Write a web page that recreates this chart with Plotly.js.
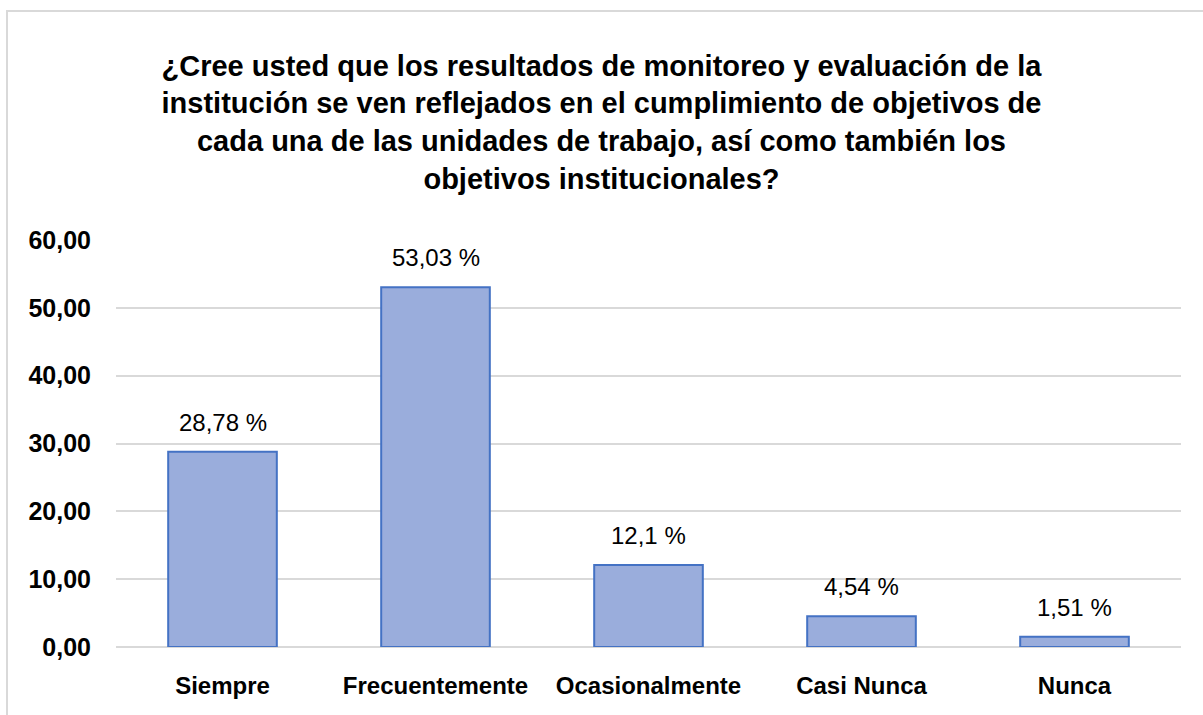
<!DOCTYPE html>
<html>
<head>
<meta charset="utf-8">
<script src="https://cdn.plot.ly/plotly-3.0.1.min.js"></script>
<style>
  html, body { margin: 0; padding: 0; background: #ffffff; }
  #frame { position: absolute; left: 6px; top: 10px; width: 1197px; height: 705px;
           border-top: 2px solid #d9d9d9; border-left: 2px solid #d9d9d9; box-sizing: border-box; }
  #chart { position: absolute; left: 0; top: 0; width: 1203px; height: 715px; }
</style>
</head>
<body>
<div id="frame"></div>
<div id="chart"></div>
<script>
const categories = ["Siempre", "Frecuentemente", "Ocasionalmente", "Casi Nunca", "Nunca"];
const values = [28.78, 53.03, 12.1, 4.54, 1.51];
const valueLabels = ["28,78 %", "53,03 %", "12,1 %", "4,54 %", "1,51 %"];
const titleText = "¿Cree usted que los resultados de monitoreo y evaluación de la<br>institución se ven reflejados en el cumplimiento de objetivos de<br>cada una de las unidades de trabajo, así como también los<br>objetivos institucionales?";

const fontFam = '"Liberation Sans", Arial, sans-serif';

const trace = {
  type: "bar",
  x: categories,
  y: values,
  marker: { color: "#9aaddc", line: { color: "#4472c4", width: 2 } },
  hoverinfo: "none"
};

const annotations = categories.map((c, i) => ({
  x: c, y: values[i], xref: "x", yref: "y",
  text: valueLabels[i], showarrow: false,
  yanchor: "bottom", yshift: 14,
  font: { family: fontFam, size: 24, color: "#000000" }
}));

const layout = {
  width: 1203, height: 715,
  paper_bgcolor: "rgba(0,0,0,0)", plot_bgcolor: "rgba(0,0,0,0)",
  margin: { l: 116, r: 22, t: 240, b: 68 },
  bargap: 0.49,
  showlegend: false,
  title: {
    text: titleText,
    x: 0.5, xanchor: "center", xref: "container",
    y: 0.894, yanchor: "top", yref: "container",
    font: { family: fontFam, size: 29, color: "#000000", weight: "bold" }
  },
  xaxis: {
    type: "category",
    showgrid: false, showline: false, zeroline: false, ticks: "",
    ticklabelstandoff: 22,
    tickfont: { family: fontFam, size: 24, color: "#000000", weight: "bold" }
  },
  yaxis: {
    range: [0, 60], dtick: 10, tick0: 0,
    tickformat: ".2f",
    showgrid: true, gridcolor: "#d9d9d9", gridwidth: 2,
    zeroline: true, zerolinecolor: "#d9d9d9", zerolinewidth: 2,
    showline: false, ticks: "", ticklabelstandoff: 24,
    tickfont: { family: fontFam, size: 25, color: "#000000", weight: "bold" }
  },
  separators: ",.",
  annotations: annotations
};

Plotly.newPlot("chart", [trace], layout, { displayModeBar: false, staticPlot: true });
</script>
</body>
</html>
